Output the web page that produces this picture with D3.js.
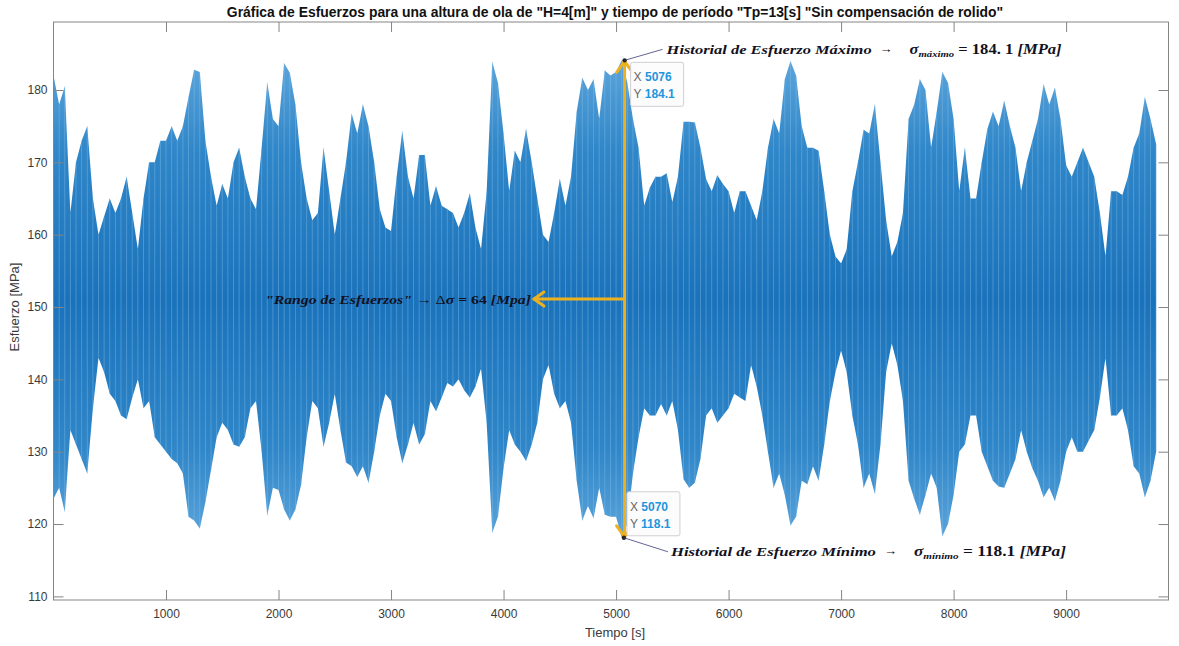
<!DOCTYPE html>
<html lang="es">
<head>
<meta charset="UTF-8">
<title>Gráfica de Esfuerzos</title>
<style>
  body { margin: 0; background: #fff; }
  svg text { font-family: "Liberation Sans", Arial, sans-serif; }
  .math { font-family: "Liberation Serif", "DejaVu Serif", serif; font-weight: bold; font-style: italic; fill: #111122; }
</style>
</head>
<body>
<script src="https://d3js.org/d3.v7.min.js"></script>
<script>

  // sample times [s] (envelope of the stress history, one value per 50 s window)
  var tiempo = [0,50,100,150,200,250,300,350,400,450,500,550,600,650,700,750,800,850,900,950,
    1000,1050,1100,1150,1200,1250,1300,1350,1400,1450,1500,1550,1600,1650,1700,1750,1800,1850,1900,1950,
    2000,2050,2100,2150,2200,2250,2300,2350,2400,2450,2500,2550,2600,2650,2700,2750,2800,2850,2900,2950,
    3000,3050,3100,3150,3200,3250,3300,3350,3400,3450,3500,3550,3600,3650,3700,3750,3800,3850,3900,3950,
    4000,4050,4100,4150,4200,4250,4300,4350,4400,4450,4500,4550,4600,4650,4700,4750,4800,4850,4900,4950,
    5000,5050,5100,5150,5200,5250,5300,5350,5400,5450,5500,5550,5600,5650,5700,5750,5800,5850,5900,5950,
    6000,6050,6100,6150,6200,6250,6300,6350,6400,6450,6500,6550,6600,6650,6700,6750,6800,6850,6900,6950,
    7000,7050,7100,7150,7200,7250,7300,7350,7400,7450,7500,7550,7600,7650,7700,7750,7800,7850,7900,7950,
    8000,8050,8100,8150,8200,8250,8300,8350,8400,8450,8500,8550,8600,8650,8700,8750,8800,8850,8900,8950,
    9000,9050,9100,9150,9200,9250,9300,9350,9400,9450,9500,9550,9600,9650,9700,9750,9800];

  // peak stress in each window [MPa]
  var esfuerzoMax = [182,178,180.5,163,170,173,175,165,160,162.5,
    165,163,165,168,163,158,165,170,170,173,
    173,175,173,175,179,182.8,182.5,173,168,164,
    167,165,170,172,168,165,163.5,172,181,176,
    175,183.7,182.4,178,170,165,162,163,172,166,
    160,165,170,176.7,174,178,175,170,163.5,161,
    160.5,168,174.3,168,165,171,171,164,166.7,164,
    163.5,163,161,163,165.7,161,158,166,183.9,181,
    174,166,171.6,170,174.6,170,165,160,159,163,
    167.7,164,168,177,181.7,180,181.5,176,182.7,182,
    182.5,184.1,181,176,172,164,166.5,168,168,168.5,
    164.5,168,175.6,175.6,175.5,172,167.7,166,168.2,167,
    166,163,166,166,164,162,166,172,176,174,
    181.5,184,182,175,172,172,171.6,166,160,157,
    156,158,166,170,174.5,174,178,170,162,157,
    159,163,176,178,181.5,180,172,177,182.5,181,
    176,166,172,165,165,170,174.6,177,175,178.5,
    175,172,166,170,173,176,180.8,178,180.3,176,
    169.6,168,170,172,170,168,163,157,166,166,
    165.5,168,172,174,179,176,172.5];

  // trough stress in each window [MPa]
  var esfuerzoMin = [123.5,125,121.7,133,131,129,127,136,143,141,
    138,137,135,134.5,137.5,140,136,137,132,131,
    130,129,128.4,127,121,120.5,119.4,123,127.5,132,
    134,133,131,130.7,132,136,137,130,121.2,125,
    124.7,122,120.5,122,125.4,132,137,136,130.7,134,
    138,133,128.5,128,126.5,128,125.7,130,135,138,
    137,132,128.4,131,134,131,132.4,137,135.6,137.5,
    139.5,139,140,138.5,137.5,139,141.5,134,118.8,121,
    127.7,133,131,130,128.7,131,134,140,142,138,
    136,137,134,126,120.5,122.5,120.8,125,121.3,121,
    121,118.1,120,127,132,136,135,135,136.6,135,
    137,133,126.2,125,125.7,129,135,136,134,135,
    136,138,137.5,137,142,139,135,130,125,127,
    124,119.8,121,126,125.5,128,126,131,137,141,
    144,141,135,131,125,127,124.2,131,141,145,
    142,137,126,123.5,121.3,124,127,125,118.3,120,
    124,130,131,135,135,130,128,126,125.2,125,
    127,129,133,130,127.7,126,123.7,125,123.2,126,
    130,132,130,130,131.5,133,137.5,143,135,135,
    136,133,128,127,123.7,126,130];

  var xTicks = [1000,2000,3000,4000,5000,6000,7000,8000,9000];
  var yTicks = [110,120,130,140,150,160,170,180];

  // data tips
  var puntoMax = { x: 5076, y: 184.1 };
  var puntoMin = { x: 5070, y: 118.1 };
  var rango = 64;

  var W = 1179, H = 646;
  var box = { left: 53.5, right: 1168.5, top: 22, bottom: 600 };

  var svg = d3.select("body").append("svg")
    .attr("width", W)
    .attr("height", H);

  var x = d3.scaleLinear().domain([0, 9910]).range([box.left, box.right]);
  var y = d3.scaleLinear().domain([109.5, 189.4]).range([box.bottom, box.top]);

  var rows = tiempo.map(function(t, i) {
    return { t: t, hi: esfuerzoMax[i], lo: esfuerzoMin[i] };
  });

  // lighter tips, denser middle (like the antialiased dense line)
  var grad = svg.append("defs").append("linearGradient")
    .attr("id", "senal").attr("gradientUnits", "userSpaceOnUse")
    .attr("x1", 0).attr("x2", 0).attr("y1", y(185)).attr("y2", y(117));
  [[0, "#5ea6dc"], [0.2, "#2f86c8"], [0.5, "#1a72bb"], [0.8, "#2f86c8"], [1, "#5ea6dc"]].forEach(function(s) {
    grad.append("stop").attr("offset", s[0]).attr("stop-color", s[1]);
  });

  // signal envelope
  var area = d3.area()
    .x(function(d) { return x(d.t); })
    .y0(function(d) { return y(d.lo); })
    .y1(function(d) { return y(d.hi); });

  svg.append("path")
    .datum(rows)
    .attr("d", area)
    .attr("fill", "url(#senal)");

  // oscillation strokes
  svg.append("g")
    .selectAll("line")
    .data(rows)
    .enter()
    .append("line")
    .attr("x1", function(d) { return x(d.t); })
    .attr("x2", function(d) { return x(d.t); })
    .attr("y1", function(d) { return y(d.lo); })
    .attr("y2", function(d) { return y(d.hi); })
    .attr("stroke", "#8cc2ea")
    .attr("stroke-width", 0.8)
    .attr("opacity", 0.5);

  // axes box
  var axisColor = "#858585";
  svg.append("rect")
    .attr("x", box.left).attr("y", box.top)
    .attr("width", box.right - box.left).attr("height", box.bottom - box.top)
    .attr("fill", "none").attr("stroke", axisColor).attr("stroke-width", 1);

  var tickLen = 10;
  var xAxis = d3.axisBottom(x).tickValues(xTicks).tickSize(-tickLen).tickPadding(9).tickFormat(d3.format("d"));
  var xAxisTop = d3.axisTop(x).tickValues(xTicks).tickSize(-tickLen).tickFormat("");
  var yAxis = d3.axisLeft(y).tickValues(yTicks).tickSize(-tickLen).tickPadding(6);
  var yAxisRight = d3.axisRight(y).tickValues(yTicks).tickSize(-tickLen).tickFormat("");

  function styleAxis(g) {
    g.select(".domain").remove();
    g.selectAll(".tick line").attr("stroke", axisColor);
    g.selectAll(".tick text").attr("fill", "#3a3a3a").attr("font-size", "12px")
      .style("font-family", "'Liberation Sans', Arial, sans-serif");
  }

  svg.append("g").attr("transform", "translate(0," + box.bottom + ")").call(xAxis).call(styleAxis);
  svg.append("g").attr("transform", "translate(0," + box.top + ")").call(xAxisTop).call(styleAxis);
  svg.append("g").attr("transform", "translate(" + box.left + ",0)").call(yAxis).call(styleAxis);
  svg.append("g").attr("transform", "translate(" + box.right + ",0)").call(yAxisRight).call(styleAxis);

  // labels
  svg.append("text")
    .attr("x", (box.left + box.right) / 2 + 4).attr("y", 637)
    .attr("text-anchor", "middle").attr("font-size", "13px").attr("fill", "#3a3a3a")
    .text("Tiempo [s]");

  svg.append("text")
    .attr("transform", "translate(19," + y(150) + ") rotate(-90)")
    .attr("text-anchor", "middle").attr("font-size", "13px").attr("fill", "#3a3a3a")
    .text("Esfuerzo [MPa]");

  svg.append("text")
    .attr("x", 615).attr("y", 17)
    .attr("text-anchor", "middle").attr("font-size", "13.9px").attr("font-weight", "bold").attr("fill", "#111")
    .text("Gráfica de Esfuerzos para una altura de ola de \"H=4[m]\" y tiempo de período \"Tp=13[s] \"Sin compensación de rolido\"");

  // yellow range arrows
  var gold = "#EDB120";
  var ax = x(puntoMax.x), ayTop = y(puntoMax.y), ayBot = y(puntoMin.y);
  var ayMid = y((puntoMax.y + puntoMin.y) / 2);
  var arrows = svg.append("g").attr("stroke", gold).attr("stroke-width", 3).attr("fill", "none")
    .attr("stroke-linecap", "round").attr("stroke-linejoin", "round");
  arrows.append("line").attr("x1", ax).attr("x2", ax).attr("y1", ayTop + 1).attr("y2", ayBot - 1);
  arrows.append("path").attr("d", d3.line()([[ax - 8, ayTop + 12], [ax, ayTop + 1], [ax + 8, ayTop + 12]]));
  arrows.append("path").attr("d", d3.line()([[ax - 8, ayBot - 12], [ax, ayBot - 1], [ax + 8, ayBot - 12]]));
  var hx = x(4270);
  arrows.append("line").attr("x1", ax).attr("x2", hx).attr("y1", ayMid).attr("y2", ayMid);
  arrows.append("path").attr("d", d3.line()([[hx + 10, ayMid - 7], [hx, ayMid], [hx + 10, ayMid + 7]]));

  // data tips
  function dataTip(p, bx, by) {
    var g = svg.append("g");
    g.append("circle").attr("cx", x(p.x)).attr("cy", y(p.y)).attr("r", 2.2).attr("fill", "#222");
    g.append("rect").attr("x", bx).attr("y", by).attr("width", 53).attr("height", 44).attr("rx", 2)
      .attr("fill", "#fcfcfd").attr("fill-opacity", 0.95).attr("stroke", "#cfcfd4");
    var t1 = g.append("text").attr("x", bx + 3).attr("y", by + 19).attr("font-size", "12px");
    t1.append("tspan").attr("fill", "#666").text("X ");
    t1.append("tspan").attr("fill", "#1e96dc").attr("font-weight", "bold").text(p.x);
    var t2 = g.append("text").attr("x", bx + 3).attr("y", by + 36).attr("font-size", "12px");
    t2.append("tspan").attr("fill", "#666").text("Y ");
    t2.append("tspan").attr("fill", "#1e96dc").attr("font-weight", "bold").text(p.y.toFixed(1));
  }
  dataTip(puntoMax, x(puntoMax.x) + 6, y(puntoMax.y) + 2);
  dataTip(puntoMin, x(puntoMin.x) + 3, y(puntoMin.y) - 46);

  // leader lines
  var leader = svg.append("g").attr("stroke", "#3b3b7a").attr("stroke-width", 0.8);
  leader.append("line").attr("x1", x(puntoMax.x)).attr("y1", y(puntoMax.y))
    .attr("x2", x(puntoMax.x) + 38).attr("y2", y(puntoMax.y) - 11);
  leader.append("line").attr("x1", x(puntoMin.x)).attr("y1", y(puntoMin.y))
    .attr("x2", x(puntoMin.x) + 44).attr("y2", y(puntoMin.y) + 14);

  // annotation texts
  function sigmaLabel(lx, ly, titulo, sub, valor) {
    svg.append("text").attr("class", "math").attr("x", lx).attr("y", ly)
      .attr("font-size", "13.5px").attr("textLength", 205).attr("lengthAdjust", "spacingAndGlyphs")
      .text(titulo);
    svg.append("text").attr("class", "math").attr("x", lx + 213).attr("y", ly - 1)
      .attr("font-size", "13px").style("font-style", "normal").text("→");
    var s = svg.append("text").attr("class", "math").attr("x", lx + 243).attr("y", ly)
      .attr("font-size", "14px").attr("textLength", 152).attr("lengthAdjust", "spacingAndGlyphs");
    s.append("tspan").text("σ");
    s.append("tspan").attr("font-size", "9px").attr("dy", 3).text(sub);
    s.append("tspan").attr("dy", -3).style("font-style", "normal").text(" = " + valor + " ");
    s.append("tspan").text("[MPa]");
  }
  sigmaLabel(x(puntoMax.x) + 42, y(puntoMax.y) - 6, "Historial de Esfuerzo Máximo", "máximo", "184. 1");
  sigmaLabel(x(puntoMin.x) + 47, y(puntoMin.y) + 18, "Historial de Esfuerzo Mínimo", "mínimo", puntoMin.y.toFixed(1));

  var r = svg.append("text").attr("class", "math").attr("x", 265).attr("y", ayMid + 5)
    .attr("font-size", "13.5px").attr("textLength", 266).attr("lengthAdjust", "spacingAndGlyphs");
  r.append("tspan").text("\"Rango de Esfuerzos\" ");
  r.append("tspan").style("font-style", "normal").style("font-weight", "normal").text("→ Δ");
  r.append("tspan").text("σ");
  r.append("tspan").style("font-style", "normal").text(" =  " + rango + " ");
  r.append("tspan").text("[Mpa]");

</script>
</body>
</html>
